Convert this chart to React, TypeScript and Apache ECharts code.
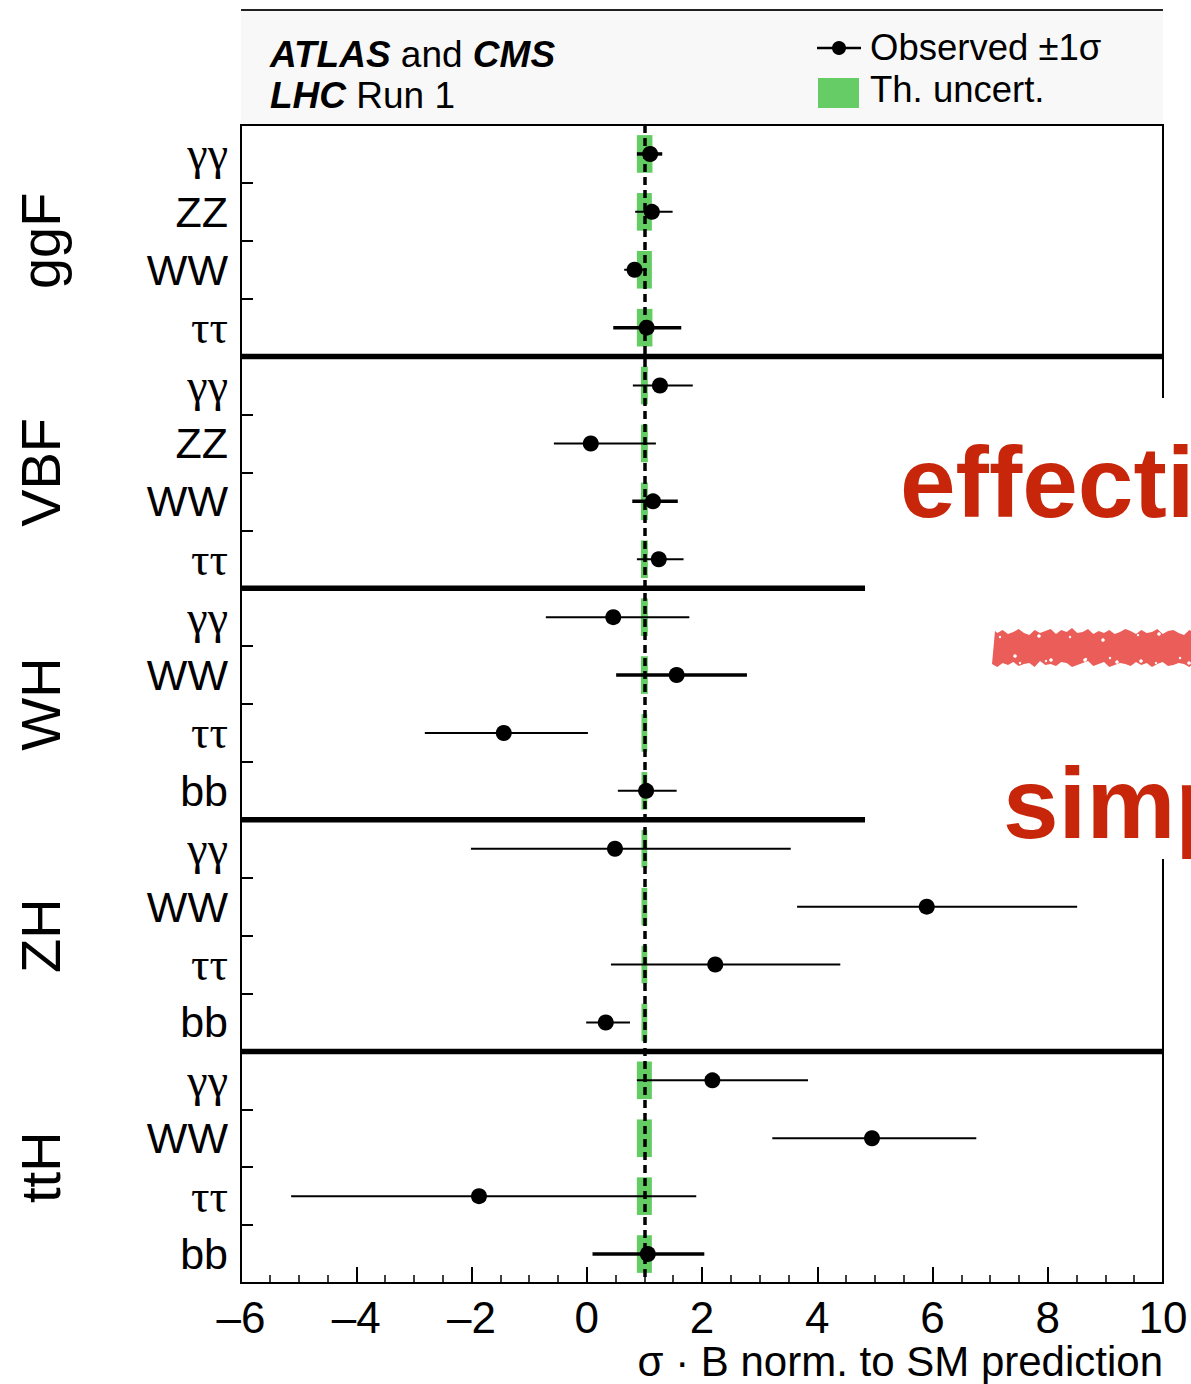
import React, { useEffect, useRef } from "react";
import * as echarts from "echarts";

const groups = ["ggF", "VBF", "WH", "ZH", "ttH"];
const channels = [
  ["γγ", "ZZ", "WW", "ττ"],
  ["γγ", "ZZ", "WW", "ττ"],
  ["γγ", "WW", "ττ", "bb"],
  ["γγ", "WW", "ττ", "bb"],
  ["γγ", "WW", "ττ", "bb"],
];
const central = [1.1, 1.13, 0.83, 1.04, 1.27, 0.07, 1.15, 1.25, 0.46, 1.56, -1.44, 1.03, 0.49, 5.9, 2.23, 0.33, 2.18, 4.95, -1.87, 1.06];
const errLow = [0.87, 0.84, 0.65, 0.46, 0.8, -0.57, 0.79, 0.87, -0.71, 0.51, -2.81, 0.54, -2.01, 3.65, 0.42, -0.01, 0.87, 3.22, -5.13, 0.1];
const errHigh = [1.31, 1.49, 1.04, 1.64, 1.84, 1.2, 1.58, 1.68, 1.78, 2.78, 0.02, 1.56, 3.54, 8.51, 4.4, 0.75, 3.84, 6.76, 1.9, 2.04];
const thickBar = [1, 0, 0, 1, 0, 0, 1, 0, 0, 1, 0, 0, 0, 0, 0, 0, 0, 0, 0, 1];
const thLow = [0.87, 0.87, 0.87, 0.87, 0.94, 0.94, 0.94, 0.94, 0.94, 0.94, 0.95, 0.95, 0.95, 0.95, 0.95, 0.95, 0.87, 0.87, 0.87, 0.87];
const thHigh = [1.14, 1.13, 1.13, 1.14, 1.06, 1.06, 1.06, 1.06, 1.06, 1.06, 1.05, 1.05, 1.05, 1.05, 1.05, 1.05, 1.13, 1.13, 1.13, 1.13];
const groupBoundaries = [4, 8, 12, 16];
const xTicks = { min: -6, max: 10, interval: 2 };
const smValue = 1;

const categories = groups.flatMap((g, i) => channels[i].map((c) => g + " " + c));

const FONT = "Liberation Sans, Arial, Helvetica, sans-serif";
const SERIF = "Liberation Serif, DejaVu Serif, serif";
const jagTop = [0, 2, -1, 3, 1, -2, 2, 4, -1, 2, 0, -2, 3, -1, 1, -3, 2, 1, -2, 3, 0, 2, -1, 3, 1, -2, 0, 3, -1, 2, 1, -2, 3, 0, -1, 2, 4, -1, 1, 2];
const jagBot = [1, -2, 2, 0, 3, -1, 1, 2, -2, 4, 0, 1, -1, 3, 2, -2, 0, 2, 4, -1, 1, 3, -2, 0, 2, 1, -1, 3, 0, 2, -2, 1, 3, -1, 0, 2, 1, -2, 3, 1];

export default function App() {
  const ref = useRef<HTMLDivElement>(null);
  useEffect(() => {
    if (!ref.current) return;
    const chart = echarts.init(ref.current, null, { renderer: "svg" });

    const x0 = 992, x1 = 1200, n = jagTop.length;
    const polyPts: number[][] = [];
    for (let i = 0; i < n; i++) polyPts.push([x0 + ((x1 - x0) * i) / (n - 1) + (i === 0 ? 3 : 0), 631 + jagTop[i]]);
    for (let i = n - 1; i >= 0; i--) polyPts.push([x0 + ((x1 - x0) * i) / (n - 1), 665 - jagBot[i]]);
    const specks: any[] = [];
    for (let i = 0; i < 18; i++) {
      specks.push({
        type: "circle",
        silent: true,
        z: 102,
        shape: { cx: 1000 + i * 11 + jagTop[i] * 2, cy: (i % 3 === 0 ? 636 : i % 3 === 1 ? 658 : 661) + jagBot[i], r: 1.2 + (i % 2) * 0.6 },
        style: { fill: "#ffffff" },
      });
    }

    const option: any = {
      animation: false,
      backgroundColor: "#ffffff",
      textStyle: { fontFamily: FONT },
      grid: { left: 241, top: 125, right: 28, bottom: 101, show: true, borderColor: "#000", borderWidth: 2, backgroundColor: "transparent" },
      xAxis: {
        type: "value",
        min: xTicks.min,
        max: xTicks.max,
        interval: xTicks.interval,
        axisLine: { show: true, onZero: false, lineStyle: { color: "#000", width: 2 } },
        axisTick: { show: true, inside: true, length: 16, lineStyle: { color: "#000", width: 2 } },
        minorTick: { show: true, splitNumber: 4, length: 8, lineStyle: { color: "#000", width: 1.5 } },
        splitLine: { show: false },
        axisLabel: {
          fontSize: 44,
          color: "#000",
          margin: 12,
          fontFamily: FONT,
          formatter: (v: number) => (v < 0 ? "–" + Math.abs(v) : String(v)),
        },
      },
      yAxis: {
        type: "category",
        data: categories,
        inverse: true,
        axisLine: { show: true, onZero: false, lineStyle: { color: "#000", width: 2 } },
        axisTick: { show: true, inside: true, length: 12, lineStyle: { color: "#000", width: 2 } },
        axisLabel: {
          fontSize: 43,
          color: "#000",
          margin: 13,
          fontFamily: FONT,
          formatter: (v: string) => {
            const c = v.split(" ")[1];
            return /[γτ]/.test(c) ? "{g|" + c + "}" : c;
          },
          rich: { g: { fontSize: 46, fontFamily: SERIF, color: "#000" } },
        },
        splitLine: { show: false },
      },
      series: [
        {
          type: "custom",
          name: "Th. uncert.",
          z: 2,
          silent: true,
          encode: { x: [0, 2], y: 1 },
          data: thLow.map((lo, i) => [lo, i, thHigh[i]]),
          renderItem: (params: any, api: any) => {
            const p1 = api.coord([api.value(0), api.value(1)]);
            const p2 = api.coord([api.value(2), api.value(1)]);
            const h = api.size([0, 1])[1] * 0.65;
            return {
              type: "rect",
              shape: { x: p1[0], y: p1[1] - h / 2, width: p2[0] - p1[0], height: h },
              style: { fill: "#63cc63" },
            };
          },
          markLine: {
            silent: true,
            symbol: ["none", "none"],
            label: { show: false },
            lineStyle: { color: "#000", width: 3.5, type: [8, 5], opacity: 1 },
            data: [{ xAxis: smValue }],
          },
        },
        {
          type: "custom",
          name: "err",
          z: 3,
          silent: true,
          encode: { x: [0, 2], y: 1 },
          data: errLow.map((lo, i) => [lo, i, errHigh[i], thickBar[i]]),
          renderItem: (params: any, api: any) => {
            const p1 = api.coord([api.value(0), api.value(1)]);
            const p2 = api.coord([api.value(2), api.value(1)]);
            return {
              type: "line",
              shape: { x1: p1[0], y1: p1[1], x2: p2[0], y2: p2[1] },
              style: { stroke: "#000", lineWidth: api.value(3) ? 3.5 : 2 },
            };
          },
        },
        {
          type: "scatter",
          name: "Observed",
          z: 4,
          silent: true,
          symbol: "circle",
          symbolSize: 16,
          itemStyle: { color: "#000", opacity: 1 },
          data: central.map((c, i) => [c, i]),
        },
        {
          type: "custom",
          name: "sep",
          z: 5,
          silent: true,
          encode: { x: 0, y: 1 },
          data: groupBoundaries.map((b) => [0, b]),
          renderItem: (params: any, api: any) => {
            const c = api.coord([0, api.value(1)]);
            const y = c[1] - api.size([0, 1])[1] / 2;
            const cs = params.coordSys;
            return {
              type: "line",
              shape: { x1: cs.x, y1: y, x2: cs.x + cs.width, y2: y },
              style: { stroke: "#000", lineWidth: 5.5 },
            };
          },
        },
      ],
      graphic: [
        { type: "rect", z: 0, silent: true, shape: { x: 241, y: 11, width: 922, height: 113 }, style: { fill: "#f8f8f8" } },
        { type: "line", silent: true, shape: { x1: 241, y1: 10, x2: 1163, y2: 10 }, style: { stroke: "#222", lineWidth: 2 } },
        {
          type: "text",
          silent: true,
          x: 270,
          y: 54,
          style: {
            text: "{b|ATLAS} and {b|CMS}",
            fontSize: 37,
            fontFamily: FONT,
            fill: "#000",
            verticalAlign: "middle",
            rich: { b: { fontSize: 37, fontFamily: FONT, fontWeight: "bold", fontStyle: "italic", fill: "#000" } },
          },
        },
        {
          type: "text",
          silent: true,
          x: 270,
          y: 95,
          style: {
            text: "{b|LHC} Run 1",
            fontSize: 37,
            fontFamily: FONT,
            fill: "#000",
            verticalAlign: "middle",
            rich: { b: { fontSize: 37, fontFamily: FONT, fontWeight: "bold", fontStyle: "italic", fill: "#000" } },
          },
        },
        { type: "line", silent: true, shape: { x1: 817, y1: 48, x2: 861, y2: 48 }, style: { stroke: "#000", lineWidth: 2.5 } },
        { type: "circle", silent: true, shape: { cx: 839, cy: 48, r: 7 }, style: { fill: "#000" } },
        { type: "text", silent: true, x: 870, y: 47, style: { text: "Observed ±1σ", fontSize: 36.5, fontFamily: FONT, fill: "#000", verticalAlign: "middle" } },
        { type: "rect", silent: true, shape: { x: 818, y: 78, width: 41, height: 30 }, style: { fill: "#66cc66" } },
        { type: "text", silent: true, x: 870, y: 89, style: { text: "Th. uncert.", fontSize: 36.5, fontFamily: FONT, fill: "#000", verticalAlign: "middle" } },
        ...groups.map((g, i) => ({
          type: "text",
          silent: true,
          x: 40,
          y: 125 + (1158 / 20) * (4 * i + 2),
          rotation: Math.PI / 2,
          style: { text: g, fontSize: 56, fontFamily: FONT, fill: "#000", align: "center", verticalAlign: "middle" },
        })),
        { type: "rect", silent: true, z: 100, shape: { x: 865, y: 398, width: 330, height: 461 }, style: { fill: "#ffffff" } },
        { type: "text", silent: true, z: 101, x: 900, y: 482, style: { text: "effecti", fontSize: 100, fontWeight: "bold", fontFamily: FONT, fill: "#c8260b", verticalAlign: "middle" } },
        { type: "polygon", silent: true, z: 101, shape: { points: polyPts }, style: { fill: "#eb5d58" } },
        ...specks,
        { type: "text", silent: true, z: 101, x: 1003, y: 803, style: { text: "simp", fontSize: 100, fontWeight: "bold", fontFamily: FONT, fill: "#c8260b", verticalAlign: "middle" } },
        { type: "text", silent: true, x: 1163, y: 1361, style: { text: "σ · B norm. to SM prediction", fontSize: 42, fontFamily: FONT, fill: "#000", align: "right", verticalAlign: "middle" } },
      ],
    };
    chart.setOption(option);
    return () => chart.dispose();
  }, []);
  return <div ref={ref} style={{ position: "absolute", left: 0, top: 0, width: 1191, height: 1384 }} />;
}
